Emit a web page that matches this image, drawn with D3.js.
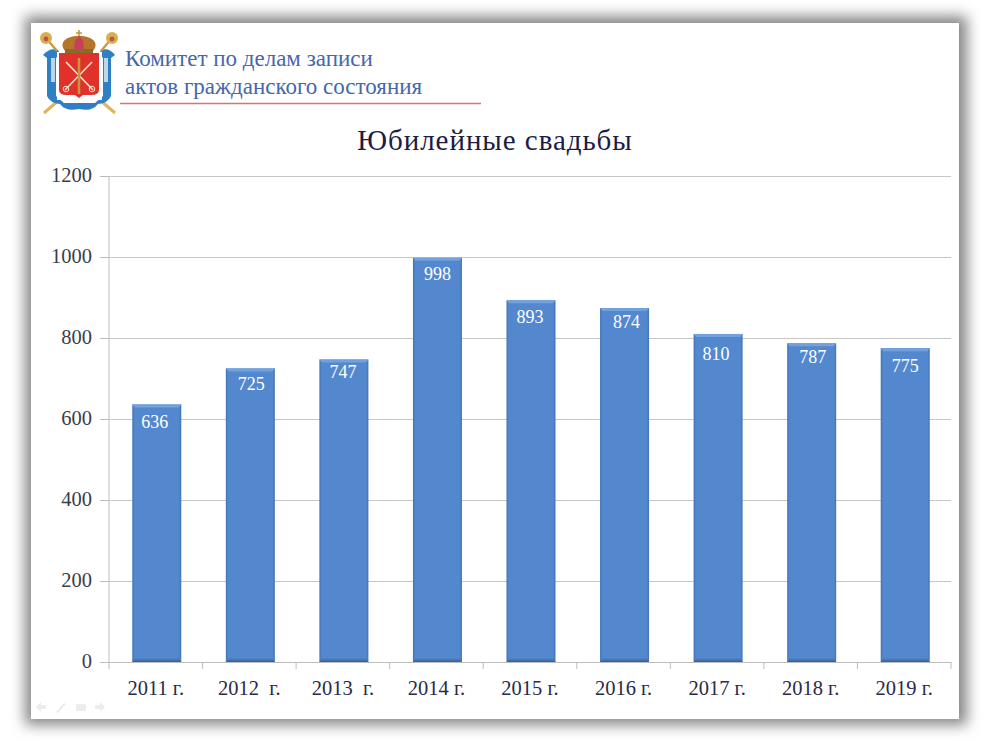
<!DOCTYPE html>
<html><head><meta charset="utf-8">
<script src="https://cdnjs.cloudflare.com/ajax/libs/d3/7.8.5/d3.min.js"></script>
<style>html,body{margin:0;padding:0;background:#fff}svg{display:block}text{font-family:"Liberation Serif",serif}</style>
</head><body><svg id="c" width="990" height="742"></svg>
<script>
const categories=["2011 г.","2012  г.","2013  г.","2014 г.","2015 г.","2016 г.","2017 г.","2018 г.","2019 г."];
const values=[636,725,747,998,893,874,810,787,775];
const yTicks=[0,200,400,600,800,1000,1200];
const titleText="Юбилейные свадьбы";
const headerLines=["Комитет по делам записи","актов гражданского состояния"];

const svg=d3.select("#c");
const defs=svg.append("defs");
const sf=defs.append("filter").attr("id","sh").attr("x","-10%").attr("y","-10%").attr("width","120%").attr("height","120%");
sf.append("feGaussianBlur").attr("stdDeviation",7);
defs.append("filter").attr("id","soft").append("feGaussianBlur").attr("stdDeviation",0.5);
const sg=defs.append("linearGradient").attr("id","bar").attr("x1",0).attr("x2",1).attr("y1",0).attr("y2",0);
[[0,"#4274b4"],[0.05,"#5388ce"],[0.95,"#5388ce"],[1,"#4274b4"]].forEach(d=>sg.append("stop").attr("offset",d[0]).attr("stop-color",d[1]));
const bg=defs.append("linearGradient").attr("id","base").attr("x1",0).attr("x2",0).attr("y1",0).attr("y2",1);
[[0,"#5388ce"],[1,"#33608f"]].forEach(d=>bg.append("stop").attr("offset",d[0]).attr("stop-color",d[1]));

// slide and its shadow
svg.append("rect").attr("x",25).attr("y",16).attr("width",942).attr("height",709).attr("fill","#858585").attr("filter","url(#sh)");
svg.append("rect").attr("x",31).attr("y",23).attr("width",928).attr("height",696).attr("fill","#fff");

// emblem (schematic)
const e=svg.append("g").attr("filter","url(#soft)");
const blue="#2f7fc4",gold="#c8963c";
e.append("path").attr("d","M44 113 L59 100 M115 113 L100 100").attr("stroke","#dcb75a").attr("stroke-width",3);
e.append("path").attr("d","M43 55 Q50 47 58 50 L60 54 L56 58 L56 96 L64 103 L95 103 L103 96 L103 58 L99 54 L101 50 Q109 47 115 55 L111 58 L111 96 Q108 103 98 104 Q92 112 79 109 Q66 112 60 104 Q50 103 47 96 L47 58 Z").attr("fill",blue);
e.append("path").attr("d","M51 58 L55 58 L55 82 L51 82 Z M104 58 L108 58 L108 82 L104 82 Z").attr("fill","#bcd6ea");
e.append("rect").attr("x",57).attr("y",52).attr("width",45).attr("height",48).attr("fill","#fff");
e.append("path").attr("d","M59 53 H99 V90 Q99 95 91 95 H83 L79 98 L75 95 H67 Q59 95 59 90 Z").attr("fill","#e0302a");
e.append("path").attr("d","M66 62 L93 90 M92 62 L65 90").attr("stroke","#f2e6cf").attr("stroke-width",1.6).attr("fill","none");
e.append("path").attr("d","M79 58 V94").attr("stroke",gold).attr("stroke-width",2.6);
e.append("circle").attr("cx",66).attr("cy",89).attr("r",2.8).attr("fill","none").attr("stroke","#f2e6cf");
e.append("circle").attr("cx",92).attr("cy",89).attr("r",2.8).attr("fill","none").attr("stroke","#f2e6cf");
e.append("path").attr("d","M66 52 C58 44 64 36 79 36 C94 36 100 44 92 52 Z").attr("fill","#b5752c");
e.append("path").attr("d","M75 52 C73 44 75 39 79 36 C83 39 85 44 83 52 Z").attr("fill","#c9405a");
e.append("path").attr("d","M79 30 V36 M76 33 H82").attr("stroke",gold).attr("stroke-width",1.6);
e.append("rect").attr("x",65).attr("y",49).attr("width",28).attr("height",4).attr("fill","#8a6a2c");
[[46,38,57,51],[112,38,101,51]].forEach(d=>{
  e.append("line").attr("x1",d[0]).attr("y1",d[1]).attr("x2",d[2]).attr("y2",d[3]).attr("stroke",gold).attr("stroke-width",2.2);
  e.append("circle").attr("cx",d[0]).attr("cy",d[1]).attr("r",6).attr("fill","#d8b04c");
  e.append("circle").attr("cx",d[0]).attr("cy",d[1]+1).attr("r",2.4).attr("fill","#c05050");
});

// header
svg.append("g").selectAll("text").data(headerLines).join("text")
  .attr("x",125).attr("y",(d,i)=>[66,94][i]).attr("font-size",23).attr("fill","#4667ab").text(d=>d);
svg.append("line").attr("x1",120).attr("x2",481).attr("y1",103.5).attr("y2",103.5).attr("stroke","#d9766c").attr("stroke-width",1.3);
svg.append("text").attr("x",495).attr("y",150).attr("text-anchor","middle").attr("font-size",29).attr("letter-spacing",0.95).attr("fill","#1c1c44").text(titleText);

// scales
const x=d3.scaleBand().domain(categories).range([110,952]).paddingInner(0.476).paddingOuter(0.238);
const xb=d3.scaleBand().domain(categories).range([109,951]);
const y=d3.scaleLinear().domain([0,1200]).range([662,176]);

// grid
const axisColor="#bdbdbd";
const gy=svg.append("g").attr("transform","translate(109,0)").call(d3.axisLeft(y).tickValues(yTicks).tickSize(9).tickPadding(8).tickFormat(d3.format("d")));
gy.select(".domain").attr("stroke",axisColor).attr("d","M0,176V662");
gy.selectAll("line").attr("stroke",axisColor);
gy.selectAll("text").attr("font-family","Liberation Serif").attr("font-size",20.5).attr("fill","#3c3c4c").attr("dy","0.28em");
svg.append("g").selectAll("line").data(yTicks.slice(1)).join("line")
  .attr("x1",109).attr("x2",951).attr("y1",d=>y(d)+.5).attr("y2",d=>y(d)+.5).attr("stroke","#c6c6c6").attr("stroke-width",1);

// bars
const labelNudge=[2,0,-3,0,1,-2,4,-2,2];
const labelShift=[-2,1,-1,0,-1,2,-2,1,0];
const b=svg.append("g").selectAll("g").data(values).join("g");
const cat=(d,i)=>categories[i];
b.append("rect").attr("x",(d,i)=>x(cat(d,i))).attr("y",d=>y(d)).attr("width",x.bandwidth()).attr("height",d=>y(0)-y(d)).attr("fill","url(#bar)");
b.append("path").attr("d",(d,i)=>{const l=x(cat(d,i)),r=l+x.bandwidth(),t=y(d);return `M${l} ${t}H${r}L${r-2.5} ${t+3}H${l+2.5}Z`;}).attr("fill","#72a2dc");
b.append("path").attr("d",(d,i)=>{const l=x(cat(d,i)),r=l+x.bandwidth(),z=y(0);return `M${l} ${z}H${r}L${r-2.5} ${z-4}H${l+2.5}Z`;}).attr("fill","url(#base)");
b.append("text").attr("x",(d,i)=>x(cat(d,i))+x.bandwidth()/2+labelShift[i]).attr("y",(d,i)=>y(d)+22+labelNudge[i]).attr("text-anchor","middle").attr("font-size",18).attr("fill","#fff").text(d=>d);

// x axis
const gx=svg.append("g").attr("transform","translate(0,662)").call(d3.axisBottom(xb).tickSize(0).tickPadding(18));
gx.select(".domain").attr("stroke",axisColor).attr("d","M109,0.5H951");
gx.selectAll("text").attr("font-family","Liberation Serif").attr("font-size",20.5).attr("fill","#2a2a4a").style("white-space","pre");
svg.append("g").selectAll("line").data(categories.map((d,i)=>i).concat(categories.length)).join("line")
  .attr("x1",i=>109+xb.step()*i).attr("x2",i=>109+xb.step()*i).attr("y1",662).attr("y2",669).attr("stroke",axisColor);

// slide nav icons
const n=svg.append("g").attr("fill","#ececec");
n.append("path").attr("d","M36 707 L41 702 V705 H46 V709 H41 V712 Z");
n.append("path").attr("d","M56 712 L64 703 L66 704 L58 713 Z");
n.append("rect").attr("x",76).attr("y",704).attr("width",10).attr("height",7);
n.append("path").attr("d","M105 707 L100 702 V705 H95 V709 H100 V712 Z");
</script></body></html>
